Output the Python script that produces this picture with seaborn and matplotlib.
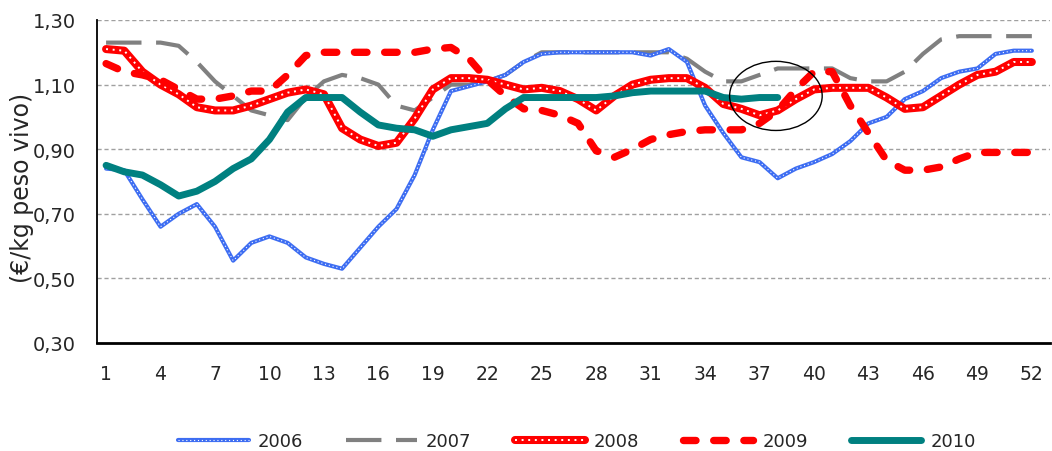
import matplotlib
matplotlib.use("Agg")
import matplotlib.pyplot as plt
import seaborn as sns
from matplotlib.patches import Ellipse
from matplotlib.ticker import FixedLocator, FuncFormatter

# datos (€/kg peso vivo) por semana
weeks = list(range(1, 53))
weeks_2010 = list(range(1, 39))

y2006 = [0.84, 0.835, 0.745, 0.66, 0.70, 0.73, 0.66, 0.555, 0.61, 0.63,
         0.61, 0.565, 0.545, 0.53, 0.595, 0.66, 0.715, 0.82, 0.96, 1.08,
         1.095, 1.11, 1.13, 1.17, 1.195, 1.20, 1.20, 1.20, 1.20, 1.20,
         1.19, 1.21, 1.17, 1.035, 0.95, 0.875, 0.86, 0.81, 0.84, 0.86,
         0.885, 0.925, 0.98, 1.00, 1.055, 1.08, 1.12, 1.14, 1.15, 1.195,
         1.205, 1.205]
y2007 = [1.23, 1.23, 1.23, 1.23, 1.22, 1.17, 1.11, 1.065, 1.02, 1.005,
         0.99, 1.06, 1.11, 1.13, 1.12, 1.10, 1.035, 1.02, 1.06, 1.10,
         1.10, 1.11, 1.13, 1.17, 1.20, 1.20, 1.20, 1.20, 1.20, 1.20,
         1.20, 1.20, 1.18, 1.14, 1.11, 1.11, 1.13, 1.15, 1.15, 1.15,
         1.15, 1.12, 1.11, 1.11, 1.14, 1.195, 1.24, 1.25, 1.25, 1.25,
         1.25, 1.25]
y2008 = [1.21, 1.205, 1.14, 1.10, 1.07, 1.03, 1.02, 1.02, 1.035, 1.055,
         1.075, 1.085, 1.07, 0.965, 0.93, 0.91, 0.92, 0.995, 1.085, 1.12,
         1.12, 1.115, 1.10, 1.085, 1.09, 1.08, 1.055, 1.02, 1.065, 1.10,
         1.115, 1.12, 1.12, 1.09, 1.04, 1.025, 1.005, 1.02, 1.055, 1.085,
         1.09, 1.09, 1.09, 1.06, 1.025, 1.03, 1.065, 1.10, 1.13, 1.14,
         1.17, 1.17]
y2009 = [1.165, 1.14, 1.13, 1.115, 1.085, 1.055, 1.055, 1.065, 1.08, 1.08,
         1.13, 1.19, 1.20, 1.20, 1.20, 1.20, 1.20, 1.20, 1.21, 1.215,
         1.18, 1.115, 1.065, 1.025, 1.02, 1.005, 0.98, 0.895, 0.875, 0.90,
         0.93, 0.945, 0.955, 0.96, 0.96, 0.96, 0.98, 1.02, 1.085, 1.14,
         1.14, 1.035, 0.95, 0.865, 0.835, 0.835, 0.845, 0.87, 0.89, 0.89,
         0.89, 0.89]
y2010 = [0.85, 0.83, 0.82, 0.79, 0.755, 0.77, 0.80, 0.84, 0.87, 0.93,
         1.015, 1.06, 1.06, 1.06, 1.015, 0.975, 0.965, 0.96, 0.94, 0.96,
         0.97, 0.98, 1.025, 1.06, 1.06, 1.06, 1.06, 1.06, 1.065, 1.075,
         1.08, 1.08, 1.08, 1.08, 1.06, 1.055, 1.06, 1.06]

xtick_labels = list(range(1, 53, 3))
yticks = [0.30, 0.50, 0.70, 0.90, 1.10, 1.30]
years = ["2006", "2007", "2008", "2009", "2010"]

sns.set_style("white")
plt.rcParams["font.family"] = ["DejaVu Sans"]

fig = plt.figure(figsize=(10.52, 4.52), dpi=100)
ax = fig.add_axes([97 / 1052, 1 - 344 / 452, (1050 - 97) / 1052, (344 - 21) / 452])

# gris 2007
sns.lineplot(x=weeks, y=y2007, color="#808080", lw=3, ax=ax,
             linestyle=(0, (8.5, 3.5)), solid_joinstyle="round")
l07 = ax.lines[-1]
# azul punteado 2006
sns.lineplot(x=weeks, y=y2006, color="#3D6DF2", lw=3, ax=ax,
             solid_joinstyle="round", solid_capstyle="round")
l06a = ax.lines[-1]
sns.lineplot(x=weeks, y=y2006, color="white", lw=0.8, ax=ax,
             linestyle=(0, (1, 2.5)))
l06b = ax.lines[-1]
# rojo punteado 2008
sns.lineplot(x=weeks, y=y2008, color="#FF0000", lw=5.8, ax=ax,
             solid_joinstyle="round", solid_capstyle="round")
l08a = ax.lines[-1]
sns.lineplot(x=weeks, y=y2008, color="white", lw=1.4, ax=ax,
             linestyle=(0, (1, 2.4)))
l08b = ax.lines[-1]
# rojo discontinuo 2009
sns.lineplot(x=weeks, y=y2009, color="#FF0000", lw=5.3, ax=ax,
             linestyle=(0, (1.7, 2.4)), dash_capstyle="round", dash_joinstyle="round")
l09 = ax.lines[-1]
# verde 2010
sns.lineplot(x=weeks_2010, y=y2010, color="#008080", lw=5, ax=ax,
             solid_joinstyle="round", solid_capstyle="round")
l10 = ax.lines[-1]

# elipse
ax.add_patch(Ellipse((37.9, 1.065), 5.1, 0.214, fill=False, ec="black", lw=1, zorder=10))

ax.set_xlim(0.5, 53.0)
ax.set_ylim(0.30, 1.30)
ax.set_yticks(yticks)
ax.yaxis.set_major_formatter(FuncFormatter(lambda v, p: f"{v:.2f}".replace(".", ",")))
ax.set_xticks(xtick_labels)
ax.set_xticklabels([str(w) for w in xtick_labels])
ax.xaxis.set_minor_locator(FixedLocator([w + 0.5 for w in range(0, 53)]))
ax.tick_params(axis="x", which="major", length=0, pad=15, labelsize=13.5)
ax.tick_params(axis="x", which="minor", length=5, width=1, direction="out", color="black")
ax.tick_params(axis="y", which="major", length=6, width=1.2, direction="out", color="black",
               labelsize=14, pad=9)
ax.set_xlabel("")
ax.set_ylabel("")

for y in yticks[1:]:
    ax.axhline(y, color="#A0A0A0", lw=1, linestyle=(0, (3, 2)), zorder=0)

for s in ["top", "right"]:
    ax.spines[s].set_visible(False)
ax.spines["left"].set_color("black")
ax.spines["left"].set_linewidth(1.3)
ax.spines["bottom"].set_color("black")
ax.spines["bottom"].set_linewidth(2)

fig.text(22 / 1052, 1 - 188 / 452, "(€/kg peso vivo)", rotation=90,
         ha="center", va="center", fontsize=17)

handles = [(l06a, l06b), l07, (l08a, l08b), l09, l10]
fig.legend(handles, years, loc="center", bbox_to_anchor=(577 / 1052, 1 - 442 / 452),
           ncol=5, frameon=False, fontsize=13, handlelength=3.9,
           handletextpad=0.5, columnspacing=2.4)

fig.savefig("out.png", dpi=100)
